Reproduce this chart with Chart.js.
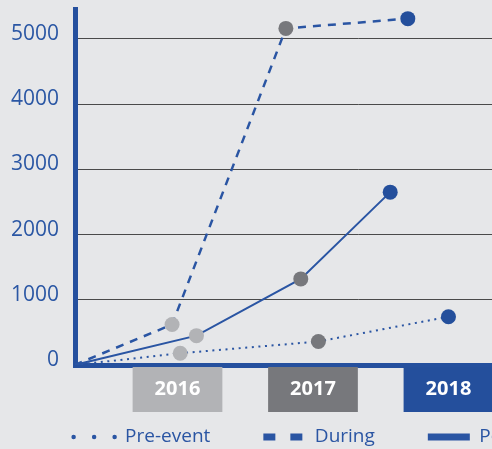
<!DOCTYPE html>
<html>
<head>
<meta charset="utf-8">
<script src="https://cdn.jsdelivr.net/npm/chart.js@4"></script>
<style>
  html, body { margin: 0; padding: 0; background: #e6e7e9; overflow: hidden; }
  canvas { display: block; }
</style>
</head>
<body>
<canvas id="chart" width="647" height="449"></canvas>
<script>
// categories (year boxes under the axis)
const years = [2016, 2017, 2018];
const yearColors = ['#b2b3b6', '#77787c', '#244f9c'];

// series, x = position in years, y = value
const seriesNames = ['Pre-event', 'During', 'Post-event'];
const preEventX = [2015.24, 2016.02, 2017.04, 2018.00];
const preEventY = [0, 180, 360, 740];
const duringX = [2015.24, 2015.96, 2016.80, 2017.70];
const duringY = [0, 620, 5160, 5310];
const postEventX = [2015.24, 2016.14, 2016.91, 2017.57];
const postEventY = [0, 450, 1320, 2650];

const yTicks = [0, 1000, 2000, 3000, 4000, 5000];

const blue = '#2a55a3';
const axisBlue = '#25509e';

Chart.defaults.font.family = "'Open Sans', sans-serif";

function toPoints(xs, ys) {
    return xs.map((x, i) => ({ x: x, y: ys[i] }));
}

// first point sits on the origin, no marker
const markerRadius = [0, 7.5, 7.5, 7.5];
const markerColors = ['transparent'].concat(yearColors);

const lineStyles = [
    { dash: [2, 4.6], width: 2, legendDash: [0, 20.5], legendWidth: 4.5, cap: 'round' },
    { dash: [8, 7], width: 2.5, legendDash: [12, 15], legendWidth: 7, cap: 'butt' },
    { dash: [], width: 2, legendDash: [], legendWidth: 7, cap: 'butt' }
];

const allX = [preEventX, duringX, postEventX];
const allY = [preEventY, duringY, postEventY];

const datasets = seriesNames.map((name, i) => ({
    label: name,
    data: toPoints(allX[i], allY[i]),
    borderColor: blue,
    borderWidth: lineStyles[i].width,
    borderDash: lineStyles[i].dash,
    pointRadius: markerRadius,
    pointHoverRadius: markerRadius,
    pointBackgroundColor: markerColors,
    pointBorderWidth: 0,
    tension: 0,
    fill: false
}));

new Chart(document.getElementById('chart'), {
    type: 'line',
    data: { datasets: datasets },
    options: {
        responsive: false,
        animation: false,
        layout: { padding: { left: 0, top: 9.5, right: 0, bottom: -7.5 } },
        plugins: {
            tooltip: { enabled: false },
            legend: {
                position: 'bottom',
                align: 'center',
                labels: {
                    usePointStyle: true,
                    pointStyleWidth: 42,
                    padding: 53,
                    color: blue,
                    font: { size: 19 },
                    generateLabels: (chart) => chart.data.datasets.map((ds, i) => ({
                        text: ds.label,
                        pointStyle: 'line',
                        fillStyle: blue,
                        strokeStyle: blue,
                        lineWidth: lineStyles[i].legendWidth,
                        lineDash: lineStyles[i].legendDash,
                        lineCap: lineStyles[i].cap,
                        fontColor: blue,
                        hidden: false,
                        datasetIndex: i
                    }))
                }
            }
        },
        scales: {
            x: {
                type: 'linear',
                min: 2015.2435,
                max: 2019.41,
                grid: { display: false },
                border: { color: axisBlue, width: 5 },
                afterBuildTicks: (scale) => {
                    scale.ticks = years.map(v => ({ value: v }));
                },
                afterFit: (scale) => {
                    scale.height = 9.5;
                    scale.paddingLeft = 0;
                    scale.paddingRight = 0;
                },
                ticks: {
                    mirror: true,
                    padding: -36,
                    color: '#ffffff',
                    font: { size: 20, weight: 'bold' },
                    showLabelBackdrop: true,
                    backdropColor: (c) => yearColors[c.index],
                    backdropPadding: { top: 10, bottom: 11, left: 22, right: 22 },
                    callback: (v) => String(v)
                }
            },
            y: {
                min: 0,
                max: 5450,
                grid: {
                    color: (c) => c.tick && c.tick.value === 0 ? 'transparent' : '#4a4a4a',
                    lineWidth: 1,
                    drawTicks: false
                },
                border: { color: axisBlue, width: 5 },
                afterBuildTicks: (scale) => {
                    scale.ticks = yTicks.map(v => ({ value: v }));
                },
                afterFit: (scale) => {
                    scale.width = 75;
                    scale.paddingTop = 0;
                    scale.paddingBottom = 0;
                },
                ticks: {
                    padding: 16,
                    labelOffset: -5,
                    color: '#2b57a4',
                    font: { size: 21 },
                    callback: (v) => String(v)
                }
            }
        }
    }
});
</script>
</body>
</html>
